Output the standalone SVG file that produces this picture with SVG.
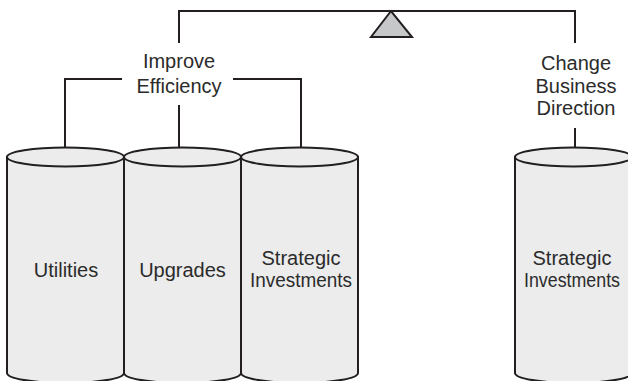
<svg xmlns="http://www.w3.org/2000/svg" width="628" height="381" viewBox="0 0 628 381">
<style>
.ln{fill:none;stroke:#231f20;stroke-width:2}
.cyl{fill:#ebeceb;stroke:#231f20;stroke-width:2}
.t{font-family:"Liberation Sans",Arial,sans-serif;font-size:20px;fill:#2b2b2b;text-anchor:middle}
</style>
<defs>
<g id="cyl">
<path class="cyl" d="M-58.5,157 L-58.5,373 A58.5,10 0 0 0 58.5,373 L58.5,157 Z"/>
<ellipse class="cyl" cx="0" cy="157" rx="58.5" ry="9.5"/>
</g>
</defs>
<g id="connectors">
<path class="ln" d="M179,43 L179,11 L575,11 L575,43"/>
<path class="ln" d="M575,128 L575,148"/>
<path class="ln" d="M122,79 L65,79 L65,148"/>
<path class="ln" d="M233,79 L301,79 L301,148"/>
<path class="ln" d="M179,105 L179,148"/>
</g>
<g id="fulcrum">
<polygon points="391,11 371,37 412,37" fill="#c6c7c8" stroke="#231f20" stroke-width="2" stroke-linejoin="miter"/>
</g>
<g id="improve-efficiency">
<text class="t" x="179" y="68">Improve</text>
<text class="t" x="179" y="93">Efficiency</text>
</g>
<g id="change-direction">
<text class="t" x="576" y="70">Change</text>
<text class="t" x="576" y="93">Business</text>
<text class="t" x="576" y="115">Direction</text>
</g>
<g id="utilities">
<use href="#cyl" x="65.5"/>
<text class="t" x="66" y="277">Utilities</text>
</g>
<g id="upgrades">
<use href="#cyl" x="182.5"/>
<text class="t" x="182.5" y="277">Upgrades</text>
</g>
<g id="strategic1">
<use href="#cyl" x="299.5"/>
<text class="t" x="301" y="265">Strategic</text>
<text class="t" x="301" y="287" textLength="102" lengthAdjust="spacingAndGlyphs">Investments</text>
</g>
<g id="strategic2">
<use href="#cyl" x="573.5"/>
<text class="t" x="572" y="265">Strategic</text>
<text class="t" x="572" y="287" textLength="96" lengthAdjust="spacingAndGlyphs">Investments</text>
</g>
</svg>
